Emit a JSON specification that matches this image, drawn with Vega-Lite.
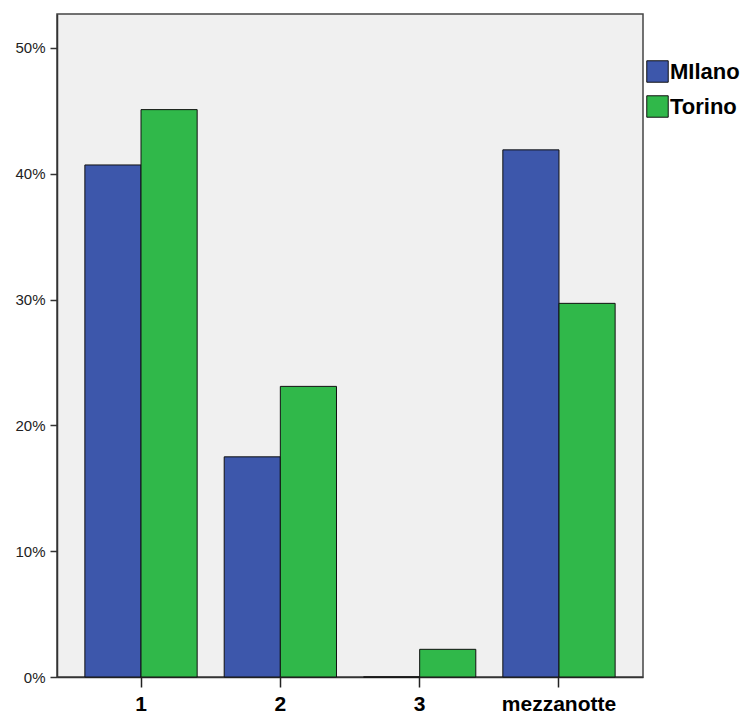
{
  "$schema": "https://vega.github.io/schema/vega-lite/v6.json",
  "autosize": {"type": "none"},
  "width": 586,
  "height": 663,
  "padding": {"left": 57, "top": 14, "right": 105, "bottom": 38},
  "background": "white",
  "data": {
    "values": [
      {"cat": "1", "city": "MIlano", "value": 0.407},
      {"cat": "1", "city": "Torino", "value": 0.451},
      {"cat": "2", "city": "MIlano", "value": 0.175},
      {"cat": "2", "city": "Torino", "value": 0.231},
      {"cat": "3", "city": "MIlano", "value": 0.0},
      {"cat": "3", "city": "Torino", "value": 0.022},
      {"cat": "mezzanotte", "city": "MIlano", "value": 0.419},
      {"cat": "mezzanotte", "city": "Torino", "value": 0.297}
    ]
  },
  "mark": {"type": "bar", "stroke": "#111111", "strokeWidth": 1},
  "encoding": {
    "x": {
      "field": "cat",
      "type": "nominal",
      "sort": ["1", "2", "3", "mezzanotte"],
      "scale": {"paddingInner": 0.194, "paddingOuter": 0.2},
      "axis": {
        "title": null,
        "labelAngle": 0,
        "labelFont": "Liberation Sans",
        "labelFontSize": 21,
        "labelFontWeight": "bold",
        "labelColor": "#000000",
        "labelPadding": 6,
        "tickSize": 10,
        "tickColor": "#222222",
        "tickWidth": 1.5,
        "domainColor": "#333333",
        "domainWidth": 1.5,
        "grid": false
      }
    },
    "xOffset": {"field": "city", "type": "nominal", "scale": {"paddingInner": 0}},
    "y": {
      "field": "value",
      "type": "quantitative",
      "scale": {"domain": [0, 0.527], "nice": false},
      "axis": {
        "title": null,
        "values": [0, 0.1, 0.2, 0.3, 0.4, 0.5],
        "format": ".0%",
        "labelFont": "Liberation Sans",
        "labelFontSize": 15,
        "labelColor": "#222222",
        "labelPadding": 5,
        "tickSize": 7,
        "tickColor": "#333333",
        "tickWidth": 1.5,
        "domainColor": "#333333",
        "domainWidth": 1.5,
        "grid": false
      }
    },
    "color": {
      "field": "city",
      "type": "nominal",
      "scale": {"domain": ["MIlano", "Torino"], "range": ["#3d57ab", "#30b84a"]},
      "legend": {
        "title": null,
        "orient": "none",
        "legendX": 589,
        "legendY": 46,
        "symbolType": "square",
        "symbolSize": 460,
        "symbolStrokeColor": "#111111",
        "symbolStrokeWidth": 1,
        "labelFont": "Liberation Sans",
        "labelFontSize": 22,
        "labelFontWeight": "bold",
        "labelColor": "#000000",
        "labelOffset": 1,
        "rowPadding": 8
      }
    }
  },
  "config": {
    "view": {"fill": "#f0f0f0", "stroke": "#444444", "strokeWidth": 1.5}
  }
}
